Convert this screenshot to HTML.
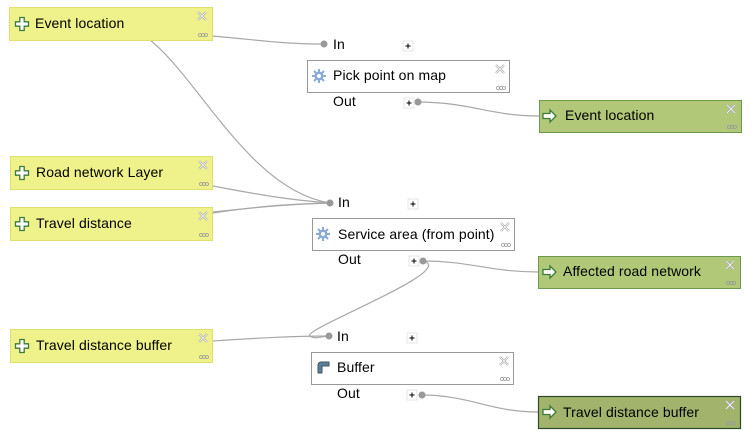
<!DOCTYPE html>
<html><head><meta charset="utf-8"><style>
html,body{margin:0;padding:0;background:#fff;width:755px;height:442px;overflow:hidden}
svg{display:block;font-family:"Liberation Sans","DejaVu Sans",sans-serif}
</style></head><body>
<svg width="755" height="442" viewBox="0 0 755 442" xmlns="http://www.w3.org/2000/svg">
<defs>
<g id="plus"><path d="M-2.2,-6.5h4.4v4.3h4.3v4.4h-4.3v4.3h-4.4v-4.3h-4.3v-4.4h4.3z" fill="#fff" stroke="#3f7a3a" stroke-width="1.3"/></g>
<g id="arr"><path d="M-7,-2.5h7v-3.5l6,6l-6,6v-3.5h-7z" fill="#fff" stroke="#3f7a3a" stroke-width="1.3"/></g>
<g id="x"><path d="M-4,-4l8,8M4,-4l-8,8" stroke="#aaa" stroke-width="2.2" fill="none"/><path d="M-4,-4l8,8M4,-4l-8,8" stroke="#fff" stroke-width="0.8" fill="none"/></g>
<g id="dots"><circle cx="-3" cy="0" r="1.5" fill="none" stroke="#999" stroke-width="0.8"/><circle cx="0" cy="0" r="1.5" fill="none" stroke="#999" stroke-width="0.8"/><circle cx="3" cy="0" r="1.5" fill="none" stroke="#999" stroke-width="0.8"/></g>
<g id="gear"><circle r="4.5" fill="#8aa9d6"/><path d="M0,-7v14M-7,0h14M-5,-5l10,10M5,-5l-10,10" stroke="#8aa9d6" stroke-width="2"/><circle r="2" fill="#fff"/></g>
<g id="pb"><rect x="-4" y="-5" width="10" height="10" fill="#fff" stroke="#ccc" stroke-width="0.5"/><path d="M-1.5,0h5M1,-2.5v5" stroke="#000" stroke-width="1"/></g>
</defs>
<g fill="none" stroke="#a8a8a8" stroke-width="1.2">
<path d="M212,36 C260,40 280,44 324,44"/>
<path d="M150,40 C200,80 250,190 330,203"/>
<path d="M213,186 C260,195 290,200 330,203"/>
<path d="M213,213 C260,206 290,204 330,203"/>
<path d="M213,212 C260,207 290,204 330,203"/>
<path d="M417,102 C470,102 490,116 539,116"/>
<path d="M423,261 C470,261 490,272 538,272"/>
<path d="M423,261 C460,270 300,330 310,336 C315,340 322,336 329,336"/>
<path d="M213,341 C260,338 290,336 329,336"/>
<path d="M421,395 C470,395 490,412 538,412"/>
</g>
<g fill="#999"><circle cx="324" cy="44" r="3.5"/><circle cx="330" cy="203" r="3.5"/><circle cx="329" cy="336" r="3.5"/><circle cx="418" cy="102" r="3.5"/><circle cx="423" cy="261" r="3.5"/><circle cx="422" cy="395" r="3.5"/></g>
<g stroke="#e0df6a" fill="#eff28a">
<rect x="9.5" y="7.5" width="203" height="33"/>
<rect x="10.5" y="156.5" width="202" height="33"/>
<rect x="10.5" y="207.5" width="202" height="33"/>
<rect x="10.5" y="329.5" width="202" height="33"/>
</g>
<g stroke="#999" fill="#fff">
<rect x="307.5" y="60.5" width="202" height="32"/>
<rect x="312.5" y="218.5" width="202" height="32"/>
<rect x="311.5" y="352.5" width="202" height="32"/>
</g>
<rect x="539.5" y="100.5" width="202" height="32" fill="#b0c878" stroke="#6e9a50"/>
<rect x="538.5" y="256.5" width="202" height="32" fill="#b0c878" stroke="#6e9a50"/>
<rect x="538.5" y="396.5" width="202" height="32" fill="#a2b46c" stroke="#2e4a28" stroke-width="1.2"/>
<use href="#plus" x="22" y="24"/><use href="#plus" x="22" y="173"/><use href="#plus" x="22" y="224"/><use href="#plus" x="22" y="346"/>
<use href="#arr" x="550" y="116"/><use href="#arr" x="550" y="272"/><use href="#arr" x="550" y="412"/>
<use href="#gear" x="319" y="76"/><use href="#gear" x="323" y="234"/>
<path d="M318,373v-8a3,3 0 0 1 3,-3h8v4h-7v7z" fill="#5d7f95" stroke="#3e5566" stroke-width="1"/>
<g>
<use href="#x" x="202" y="16"/><use href="#dots" x="203" y="35"/>
<use href="#x" x="203" y="165"/><use href="#dots" x="204" y="184"/>
<use href="#x" x="203" y="216"/><use href="#dots" x="204" y="235"/>
<use href="#x" x="203" y="338"/><use href="#dots" x="204" y="357"/>
<use href="#x" x="500" y="69"/><use href="#dots" x="501" y="88"/>
<use href="#x" x="505" y="227"/><use href="#dots" x="506" y="245"/>
<use href="#x" x="504" y="361"/><use href="#dots" x="505" y="379"/>
<use href="#x" x="731" y="109"/><use href="#dots" x="732" y="127"/>
<use href="#x" x="730" y="265"/><use href="#dots" x="731" y="283"/>
<use href="#x" x="730" y="405"/><use href="#dots" x="731" y="423"/>
</g>
<g font-size="14" fill="#000" letter-spacing="0.1">
<text x="35" y="28">Event location</text>
<text x="36" y="177">Road network Layer</text>
<text x="36" y="228">Travel distance</text>
<text x="36" y="350">Travel distance buffer</text>
<text x="333" y="80">Pick point on map</text>
<text x="338" y="239">Service area (from point)</text>
<text x="337" y="372">Buffer</text>
<text x="565" y="120">Event location</text>
<text x="563" y="276">Affected road network</text>
<text x="563" y="417">Travel distance buffer</text>
<text x="333" y="49">In</text>
<text x="333" y="106">Out</text>
<text x="338" y="207">In</text>
<text x="338" y="264">Out</text>
<text x="337" y="341">In</text>
<text x="337" y="398">Out</text>
</g>
<use href="#pb" x="407" y="46"/><use href="#pb" x="408" y="103"/>
<use href="#pb" x="412" y="204"/><use href="#pb" x="413" y="261"/>
<use href="#pb" x="411" y="338"/><use href="#pb" x="411" y="395"/>
</svg>
</body></html>
